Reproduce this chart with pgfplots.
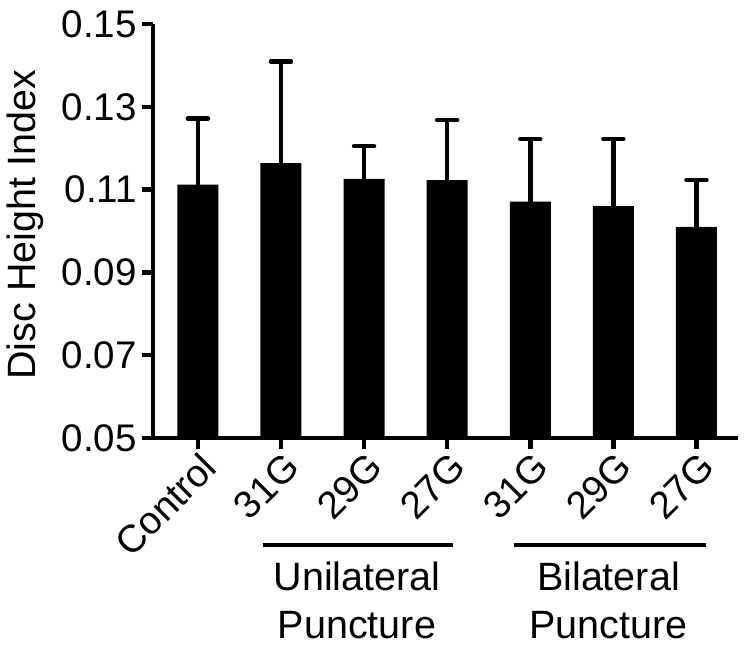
\documentclass[border=0pt]{standalone}
\usepackage{fontspec}
\setmainfont{Liberation Sans}
\usepackage{pgfplots}
\usepackage{pgfplotstable}
\pgfplotsset{compat=1.18}
\pgfplotstableread{
x y e
0 0.1112 0.0160
1 0.1164 0.0245
2 0.1126 0.0079
3 0.1123 0.0145
4 0.1071 0.0151
5 0.1060 0.0162
6 0.1010 0.0113
}\disc
\begin{document}
\begin{tikzpicture}
\path[use as bounding box] (-153pt,-216pt) rectangle (597pt,438pt);
\begin{axis}[
  at={(0pt,0pt)}, anchor=south west,
  scale only axis, width=585pt, height=414pt,
  xmin=-0.54, xmax=6.5, ymin=0.05, ymax=0.15,
  axis lines=left, axis line style={-, line width=4.5pt},
  ytick={0.05,0.07,0.09,0.11,0.13,0.15},
  xtick={0,1,2,3,4,5,6},
  xticklabels={Control,31G,29G,27G,31G,29G,27G},
  tick align=outside, major tick length=11pt,
  major tick style={black, line width=4.5pt},
  /pgf/number format/assume math mode=true,
  yticklabel style={/pgf/number format/fixed, /pgf/number format/fixed zerofill, /pgf/number format/precision=2, font=\fontsize{38.5}{46}\selectfont, inner sep=0pt, xshift=-5pt},
  xticklabel style={rotate=45, anchor=north east, font=\fontsize{38.5}{46}\selectfont, inner sep=2pt, xshift=2pt},
  ylabel={Disc Height Index},
  every axis y label/.style={at={(axis description cs:-0.219,0.515)}, rotate=90, anchor=center, font=\fontsize{39.5}{47}\selectfont},
]
\addplot[ybar, bar width=41pt, fill=black, draw=none,
  error bars/.cd, y dir=plus, y explicit,
  error bar style={line width=4.5pt, black},
  error mark options={rotate=90, line width=4.5pt, mark size=10pt, black, line cap=round}]
  table[x=x, y=y, y error=e] {\disc};
\end{axis}
\draw[line width=4.5pt] (109.7pt,-107pt) -- (300.3pt,-107pt);
\draw[line width=4.5pt] (361pt,-107pt) -- (553pt,-107pt);
\begin{scope}[every node/.style={anchor=base, inner sep=0pt, font=\fontsize{39.5}{47}\selectfont}]
\node at (204pt,-152pt) {Unilateral};
\node at (204pt,-200pt) {Puncture};
\node at (455.5pt,-152pt) {Bilateral};
\node at (455.5pt,-200pt) {Puncture};
\end{scope}
\end{tikzpicture}
\end{document}
